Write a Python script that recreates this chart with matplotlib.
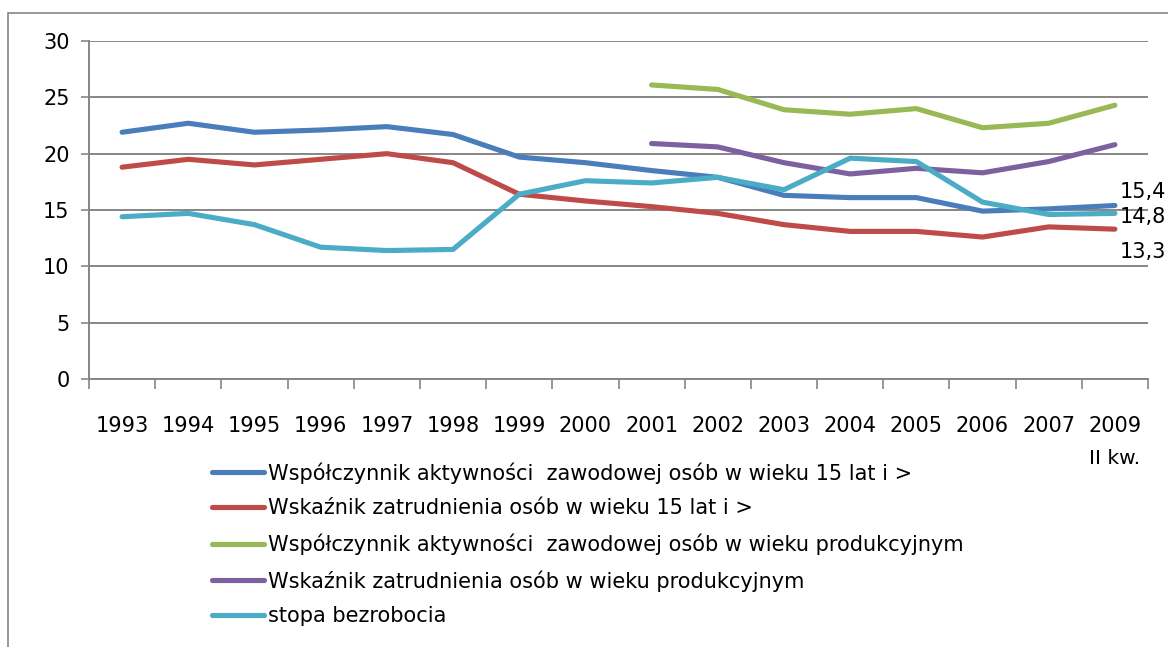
import numpy as np
import matplotlib
matplotlib.use("Agg")
import matplotlib.pyplot as plt
from matplotlib.patches import Rectangle

# dane z wykresu
years = ['1993', '1994', '1995', '1996', '1997', '1998', '1999', '2000',
         '2001', '2002', '2003', '2004', '2005', '2006', '2007', '2009']
aktyw_15 = [21.9, 22.7, 21.9, 22.1, 22.4, 21.7, 19.7, 19.2,
            18.5, 17.9, 16.3, 16.1, 16.1, 14.9, 15.1, 15.4]
zatr_15 = [18.8, 19.5, 19.0, 19.5, 20.0, 19.2, 16.4, 15.8,
           15.3, 14.7, 13.7, 13.1, 13.1, 12.6, 13.5, 13.3]
aktyw_prod = [None] * 8 + [26.1, 25.7, 23.9, 23.5, 24.0, 22.3, 22.7, 24.3]
zatr_prod = [None] * 8 + [20.9, 20.6, 19.2, 18.2, 18.7, 18.3, 19.3, 20.8]
bezrobocie = [14.4, 14.7, 13.7, 11.7, 11.4, 11.5, 16.4, 17.6,
              17.4, 17.9, 16.8, 19.6, 19.3, 15.7, 14.6, 14.7]

labels = ['Współczynnik aktywności  zawodowej osób w wieku 15 lat i >',
          'Wskaźnik zatrudnienia osób w wieku 15 lat i >',
          'Współczynnik aktywności  zawodowej osób w wieku produkcyjnym',
          'Wskaźnik zatrudnienia osób w wieku produkcyjnym',
          'stopa bezrobocia']
colors = ['#4A7EBB', '#BE4B48', '#98B954', '#7D60A0', '#4BACC6']
end_labels = ['15,4', '13,3', '14,8']  # seria 0, 1, 4

plt.rcParams['font.family'] = ['DejaVu Sans']
fig = plt.figure(figsize=(11.68, 6.47), dpi=100)
W, H = 1168, 647
ax = fig.add_axes([89 / W, 1 - 379 / H, (1148 - 89) / W, (379 - 41) / H])

x = np.arange(len(years))
series = [aktyw_15, zatr_15, aktyw_prod, zatr_prod, bezrobocie]
for s, lab, c in zip(series, labels, colors):
    y = np.array([np.nan if v is None else v for v in s], dtype=float)
    ax.plot(x, y, color=c, lw=3.7, label=lab, solid_capstyle='round')

# etykiety na koncu linii (przesuniete zeby sie nie nakladaly)
for txt, s, dy in zip(end_labels, [aktyw_15, zatr_15, bezrobocie],
                      [1.2, -2.0, -0.3]):
    ax.text(x[-1] + 0.07, s[-1] + dy, txt, fontsize=15, va='center',
            ha='left', clip_on=False)

ax.set_xlim(-0.5, len(years) - 0.5)
ax.set_ylim(0, 30)
ax.set_yticks(range(0, 31, 5))
ax.yaxis.grid(True, color='#868686', lw=1.4)
ax.set_axisbelow(True)
ax.set_xticks(x)
ax.set_xticklabels(years, fontsize=15)
ax.set_xticks(np.arange(-0.5, len(years)), minor=True)
ax.tick_params(axis='x', which='major', length=0, pad=27)
ax.tick_params(axis='x', which='minor', length=7, color='#868686', width=1.2)
ax.tick_params(axis='y', length=6, color='#868686', width=1.2, pad=8,
               labelsize=15)
for sp in ['top', 'right']:
    ax.spines[sp].set_visible(False)
ax.spines['left'].set_color('#868686')
ax.spines['bottom'].set_color('#868686')
ax.spines['left'].set_linewidth(1.4)
ax.spines['bottom'].set_linewidth(1.4)

fig.text(1140 / W, 1 - 458 / H, 'II kw.', fontsize=14.5, ha='right',
         va='center')

leg = ax.legend(loc='upper left', bbox_to_anchor=(212 / W, 1 - 462 / H),
                bbox_transform=fig.transFigure, frameon=False, fontsize=15,
                handlelength=2.5, handletextpad=0.2, labelspacing=0.72,
                borderaxespad=0, borderpad=0)

# ramka wykresu
fig.patches.append(Rectangle((8 / W, -0.1), 1.2, 1 - 13 / H + 0.1,
                             transform=fig.transFigure, fill=False,
                             edgecolor='#868686', lw=1.2))

fig.savefig('out.png', dpi=100)
